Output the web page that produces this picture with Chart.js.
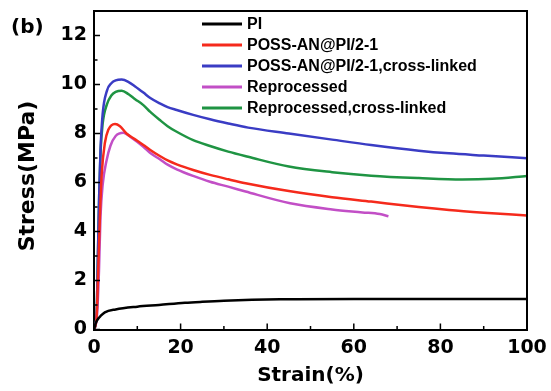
<!DOCTYPE html>
<html>
<head>
<meta charset="utf-8">
<script src="https://cdn.jsdelivr.net/npm/chart.js@4"></script>
<style>
  html, body { margin: 0; padding: 0; background: #ffffff; }
  #c { display: block; }
</style>
</head>
<body>
<canvas id="c" width="551" height="391"></canvas>
<script>
// Stress–strain curves (strain in %, stress in MPa)
const seriesNames = [
  'PI',
  'POSS-AN@PI/2-1',
  'POSS-AN@PI/2-1,cross-linked',
  'Reprocessed',
  'Reprocessed,cross-linked'
];
const seriesColors = ['#000000', '#f52a1c', '#3a3cc4', '#c24fc6', '#1f9443'];

const piStrain     = [0, 0.5, 1, 1.5, 2.5, 5, 10, 15, 21, 25, 30, 43, 60, 80, 100];
const piStress     = [0, 0.3, 0.45, 0.55, 0.7, 0.82, 0.93, 1.0, 1.09, 1.13, 1.17, 1.23, 1.25, 1.25, 1.25];

const possStrain   = [0, 0.6, 1, 1.4, 1.8, 2.5, 3.3, 4.85, 6, 7.5, 9.5, 11.4, 13, 15.2, 17, 19.1, 22.9, 26.8, 31, 35, 45, 55, 64, 75, 82, 90, 100];
const possStress   = [0, 0.5, 2.6, 4.8, 6.4, 7.6, 8.15, 8.39, 8.3, 8.0, 7.76, 7.53, 7.33, 7.08, 6.9, 6.74, 6.51, 6.31, 6.13, 5.97, 5.65, 5.4, 5.22, 5.0, 4.88, 4.77, 4.65];

const possXStrain  = [0, 0.6, 0.9, 1.2, 1.5, 2, 3, 4, 5, 6.4, 8, 9.5, 11.4, 13, 15.2, 17, 19.1, 22.9, 26.8, 31, 35.6, 45, 55, 64, 75, 82, 90, 100];
const possXStress  = [0, 0.6, 3.0, 5.5, 7.3, 8.8, 9.75, 10.05, 10.17, 10.2, 10.1, 9.92, 9.67, 9.45, 9.23, 9.08, 8.96, 8.76, 8.58, 8.41, 8.24, 8.0, 7.75, 7.53, 7.3, 7.19, 7.1, 6.99];

const reprStrain   = [0, 0.7, 1.15, 1.5, 2, 2.9, 3.8, 5, 6.8, 8.5, 11.4, 13, 15.2, 17, 19.1, 22.9, 26.8, 31, 35, 45.3, 55, 62, 66, 68];
const reprStress   = [0, 0.6, 2.4, 4.6, 5.9, 6.9, 7.5, 7.9, 8.03, 7.85, 7.46, 7.2, 6.95, 6.73, 6.54, 6.27, 6.03, 5.83, 5.63, 5.15, 4.9, 4.78, 4.71, 4.62];

const reprXStrain  = [0, 0.6, 0.9, 1.2, 1.5, 2, 3, 4, 5, 6.4, 8, 9.5, 11.4, 13, 15.2, 17, 19.1, 22.9, 26.8, 31, 35.6, 45, 55, 64, 75, 85, 92, 100];
const reprXStress  = [0, 0.6, 3.0, 5.5, 7.2, 8.4, 9.2, 9.55, 9.7, 9.75, 9.6, 9.4, 9.16, 8.88, 8.55, 8.3, 8.07, 7.73, 7.49, 7.26, 7.05, 6.65, 6.42, 6.28, 6.18, 6.12, 6.15, 6.27];

const xTickLabels = [0, 20, 40, 60, 80, 100];
const yTickLabels = [0, 2, 4, 6, 8, 10, 12];
const xMinorTicks = [10, 30, 50, 70, 90];
const yMinorTicks = [1, 3, 5, 7, 9, 11];

const AXIS_FONT = '"DejaVu Sans", sans-serif';
const LEGEND_FONT = '"Liberation Sans", Arial, sans-serif';

function toPoints(xs, ys) {
  return xs.map((x, i) => ({ x: x, y: ys[i] }));
}

const seriesData = [
  toPoints(piStrain, piStress),
  toPoints(possStrain, possStress),
  toPoints(possXStrain, possXStress),
  toPoints(reprStrain, reprStress),
  toPoints(reprXStrain, reprXStress)
];

const datasets = seriesNames.map((name, i) => ({
  label: name,
  data: seriesData[i],
  borderColor: seriesColors[i],
  backgroundColor: seriesColors[i],
  borderWidth: 2.5,
  pointRadius: 0,
  fill: false,
  cubicInterpolationMode: 'monotone'
}));

// Inward tick marks, top/right frame, y title, panel letter and in-plot legend
const decorations = {
  id: 'decorations',
  afterDraw(chart) {
    const ctx = chart.ctx;
    const xs = chart.scales.x, ys = chart.scales.y;
    const area = chart.chartArea;
    ctx.save();
    ctx.strokeStyle = '#000';
    ctx.lineCap = 'butt';

    // frame
    ctx.lineWidth = 2;
    ctx.beginPath();
    ctx.moveTo(area.left, area.top);
    ctx.lineTo(area.right, area.top);
    ctx.lineTo(area.right, area.bottom);
    ctx.stroke();

    // ticks
    ctx.lineWidth = 1.5;
    ctx.beginPath();
    xTickLabels.forEach(v => {
      const p = xs.getPixelForValue(v);
      ctx.moveTo(p, area.bottom); ctx.lineTo(p, area.bottom - 6);
    });
    xMinorTicks.forEach(v => {
      const p = xs.getPixelForValue(v);
      ctx.moveTo(p, area.bottom); ctx.lineTo(p, area.bottom - 3.5);
    });
    yTickLabels.forEach(v => {
      const p = ys.getPixelForValue(v);
      ctx.moveTo(area.left, p); ctx.lineTo(area.left + 6, p);
    });
    yMinorTicks.forEach(v => {
      const p = ys.getPixelForValue(v);
      ctx.moveTo(area.left, p); ctx.lineTo(area.left + 3.5, p);
    });
    ctx.stroke();

    ctx.fillStyle = '#000';

    // y axis title
    ctx.save();
    ctx.translate(28, 176);
    ctx.rotate(-Math.PI / 2);
    ctx.font = 'bold 22px ' + AXIS_FONT;
    ctx.textAlign = 'center';
    ctx.textBaseline = 'middle';
    ctx.fillText('Stress(MPa)', 0, 0);
    ctx.restore();

    // panel letter
    ctx.font = 'bold 20px ' + AXIS_FONT;
    ctx.textAlign = 'left';
    ctx.textBaseline = 'middle';
    ctx.fillText('(b)', 11, 28);

    // legend
    ctx.font = 'bold 16px ' + LEGEND_FONT;
    chart.data.datasets.forEach((ds, i) => {
      const y = 24 + i * 21;
      ctx.strokeStyle = ds.borderColor;
      ctx.lineWidth = 3;
      ctx.beginPath();
      ctx.moveTo(202, y); ctx.lineTo(242, y);
      ctx.stroke();
      ctx.fillStyle = '#000';
      ctx.fillText(ds.label, 247, y + 1);
    });
    ctx.restore();
  }
};

new Chart(document.getElementById('c'), {
  type: 'line',
  data: { datasets: datasets },
  plugins: [decorations],
  options: {
    responsive: false,
    animation: false,
    events: [],
    layout: { padding: { left: 0, right: 24, top: 11, bottom: 0 } },
    plugins: { legend: { display: false }, tooltip: { enabled: false } },
    scales: {
      x: {
        type: 'linear',
        min: 0,
        max: 100,
        afterBuildTicks: s => { s.ticks = xTickLabels.map(v => ({ value: v })); },
        afterFit: s => {
          s.height = 61.5;
          s.paddingLeft = 0; s.paddingRight = 0;
        },
        grid: { display: false, drawTicks: false },
        border: { display: true, color: '#000', width: 2 },
        ticks: {
          color: '#000',
          padding: 7,
          maxRotation: 0,
          font: { family: AXIS_FONT, size: 19, weight: 'bold' }
        },
        title: {
          display: true,
          text: 'Strain(%)',
          color: '#000',
          padding: { top: 0, bottom: 3 },
          font: { family: AXIS_FONT, size: 20, weight: 'bold' }
        }
      },
      y: {
        type: 'linear',
        min: 0,
        max: 13,
        afterBuildTicks: s => { s.ticks = yTickLabels.map(v => ({ value: v })); },
        afterFit: s => {
          s.width = 94;
          s.paddingTop = 0; s.paddingBottom = 0;
        },
        grid: { display: false, drawTicks: false },
        border: { display: true, color: '#000', width: 2 },
        ticks: {
          color: '#000',
          padding: 7,
          font: { family: AXIS_FONT, size: 19, weight: 'bold' }
        },
        title: { display: false }
      }
    }
  }
});
</script>
</body>
</html>
